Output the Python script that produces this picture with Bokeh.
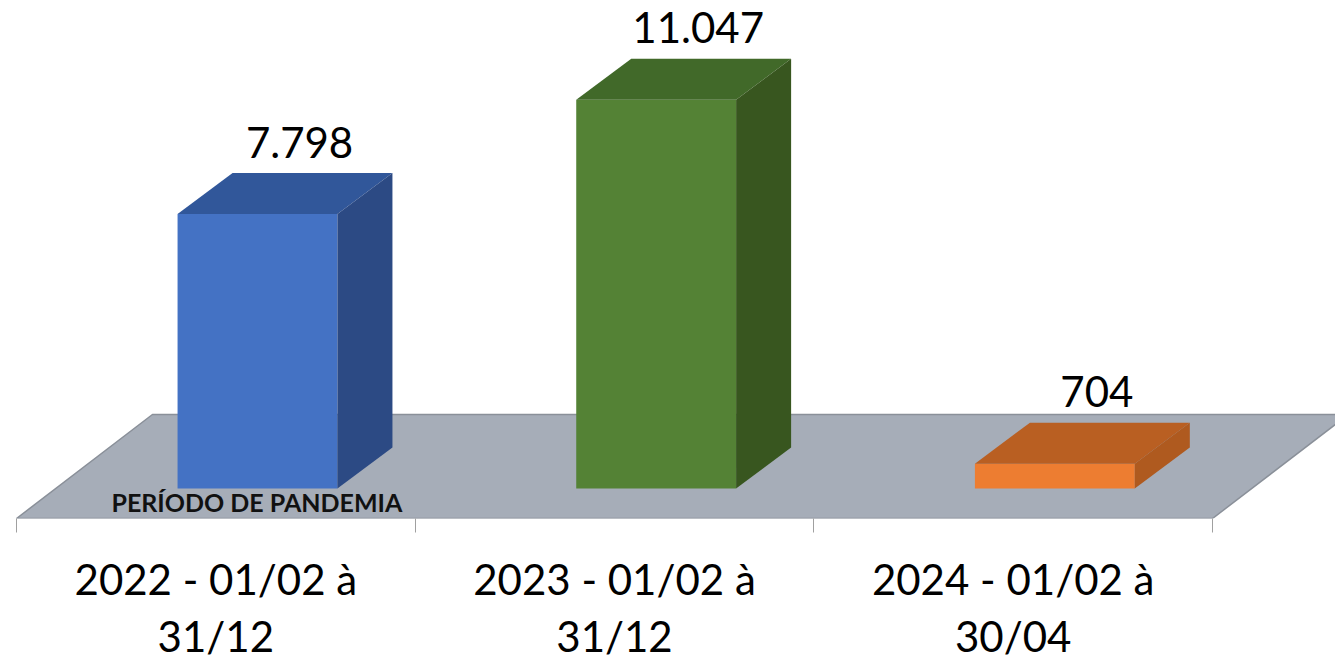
import numpy as np
from bokeh.plotting import figure
from bokeh.models import Range1d, FixedTicker, ColumnDataSource
from bokeh.core.properties import value
from bokeh.embed import file_html
from bokeh.resources import INLINE

# ---- data ----
categories = ["2022 - 01/02 à\n31/12", "2023 - 01/02 à\n31/12", "2024 - 01/02 à\n30/04"]
values = [7798, 11047, 704]
value_labels = ["7.798", "11.047", "704"]
note_text = "PERÍODO DE PANDEMIA"

# ---- styles ----
front_colors = ["#4472C4", "#548235", "#ED7D31"]
top_colors = ["#31579A", "#416929", "#B95F22"]
side_colors = ["#2C4A84", "#38561F", "#AF5A1F"]
floor_color = "#A6ADB8"
floor_edge = "#8A9099"
FONT = "Lato"

# geometry (category units on x, value units on y)
BAR_L, BAR_R = 0.404, 0.805
DX, DY = 0.138, 1165
FLOOR_Y0, FLOOR_Y1, FLOOR_DX = -853, 2103, 0.341
LABEL_PAD = 880
n = len(values)
idx = np.arange(n)

p = figure(frame_width=1335, frame_height=518, output_backend="svg", toolbar_location=None,
           x_range=Range1d(-0.04013, 3.3085), y_range=Range1d(-853, 13869),
           min_border=0, min_border_left=0, min_border_right=0, min_border_top=0,
           y_axis_location=None)
p.xgrid.visible = False
p.ygrid.visible = False
p.outline_line_color = None
p.background_fill_color = "white"
p.border_fill_color = "white"

# floor
p.patch([0, n, n + FLOOR_DX, FLOOR_DX], [FLOOR_Y0, FLOOR_Y0, FLOOR_Y1, FLOOR_Y1],
        fill_color=floor_color, line_color=floor_edge, line_width=1.5)

# bars (3D)
L = idx + BAR_L
R = idx + BAR_R
v = np.array(values, dtype=float)
p.quad(left=L, right=R, bottom=0, top=v, fill_color=front_colors, line_color=None)
top_xs = [[l, r, r + DX, l + DX] for l, r in zip(L, R)]
top_ys = [[t, t, t + DY, t + DY] for t in v]
p.patches(top_xs, top_ys, fill_color=top_colors, line_color=None)
side_xs = [[r, r + DX, r + DX, r] for r in R]
side_ys = [[0, DY, t + DY, t] for t in v]
p.patches(side_xs, side_ys, fill_color=side_colors, line_color=None)

# value labels
src = ColumnDataSource(dict(x=idx + 0.71, y=v + DY + LABEL_PAD, t=value_labels))
p.text(x="x", y="y", text="t", source=src, text_font=value(FONT), text_font_size="42px",
       text_align="center", text_baseline="alphabetic", text_color="black")

# note on the floor
p.text(x=[0.603], y=[-370], text=[note_text], text_font=value(FONT), text_font_size="25px",
       text_font_style="bold", text_align="center", text_baseline="alphabetic", text_color="#111111")

# category axis
ax = p.xaxis[0]
ax.ticker = FixedTicker(ticks=list(idx + 0.5), minor_ticks=list(range(n + 1)))
ax.major_label_overrides = {float(i + 0.5): c for i, c in zip(idx, categories)}
ax.axis_line_color = None
ax.major_tick_line_color = None
ax.major_tick_out = 0
ax.major_tick_in = 0
ax.minor_tick_line_color = "#A0A0A0"
ax.minor_tick_out = 14
ax.minor_tick_in = 0
ax.major_label_standoff = 21
ax.major_label_text_font = FONT
ax.major_label_text_font_size = "42px"
ax.major_label_text_color = "black"
ax.major_label_text_line_height = 1.15
ax.major_label_orientation = "horizontal"

open("out.html", "w").write(file_html(p, INLINE))
